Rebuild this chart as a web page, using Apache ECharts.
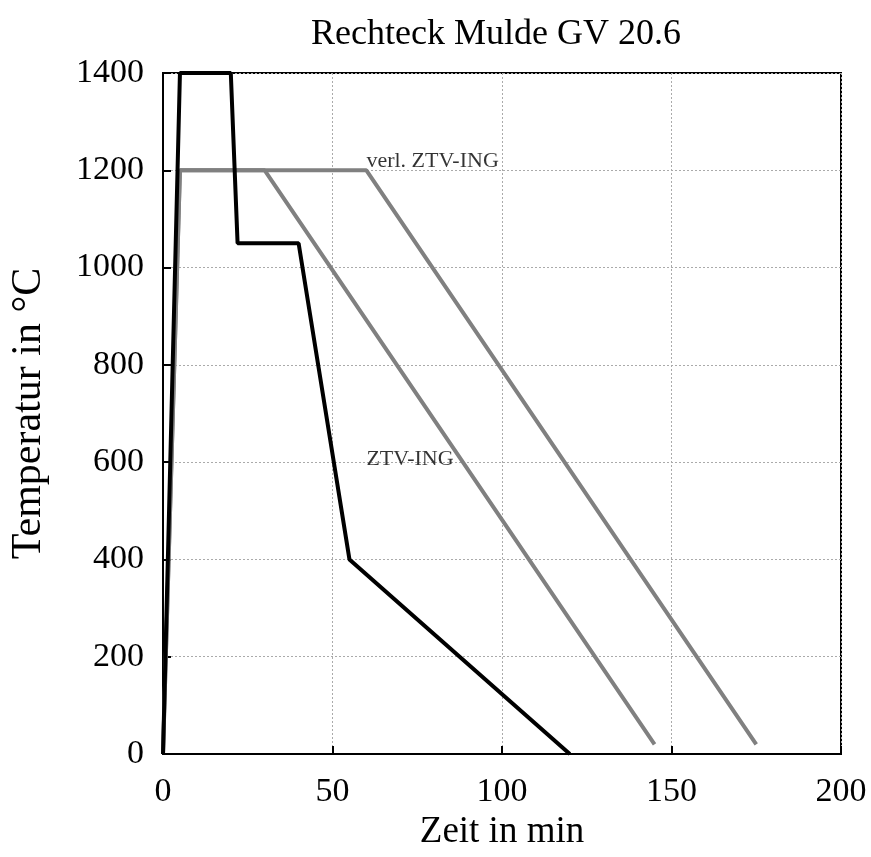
<!DOCTYPE html>
<html><head><meta charset="utf-8">
<script src="https://cdn.jsdelivr.net/npm/echarts@6/dist/echarts.min.js"></script>
<style>html,body{margin:0;padding:0;background:#fff}#c{width:871px;height:857px}</style>
</head><body><div id="c"></div>
<script>
const titleText = 'Rechteck Mulde GV 20.6';
const xName = 'Zeit in min';
const yName = 'Temperatur in °C';
const xTicks = [0, 50, 100, 150, 200];
const yTicks = [0, 200, 400, 600, 800, 1000, 1200, 1400];
// black measured curve
const mulde = [[0,0],[5,1400],[20,1400],[22,1050],[40,1050],[55,400],[120,0]];
// ZTV-ING
const ztv = [[0,0],[5,1200],[30,1200],[145,20]];
// extended ZTV-ING
const verl = [[0,0],[5,1200],[60,1200],[175,20]];
const labelVerl = {text:'verl. ZTV-ING', at:[60,1200]};
const labelZtv = {text:'ZTV-ING', at:[60,600]};

const font = 'Liberation Serif';
const chart = echarts.init(document.getElementById('c'));
const txt = (l, dy) => ({
  type:'scatter', data:[l.at], symbolSize:0, silent:true, z:5,
  label:{show:true, position:'right', distance:0, formatter:l.text, color:'#000', fontFamily:font, fontSize:22, offset:[0,dy]}
});
chart.setOption({
  animation:false,
  title:{text:titleText, left:491, textAlign:'center', top:12, textStyle:{fontFamily:font, fontSize:36, fontWeight:'normal', color:'#000'}},
  grid:{left:161, right:30, top:73, bottom:103, show:true, borderColor:'#000', borderWidth:2},
  xAxis:{type:'value', min:0, max:200, interval:50, name:xName, nameLocation:'middle', nameGap:53,
    nameTextStyle:{fontFamily:font, fontSize:37, color:'#000'},
    axisLine:{show:true, lineStyle:{color:'#000', width:2}},
    axisTick:{show:true, inside:true, length:8, lineStyle:{color:'#000', width:2}},
    axisLabel:{fontFamily:font, fontSize:34, color:'#000', margin:21, formatter:v=>String(v)},
    splitLine:{show:true, lineStyle:{color:'#aaa', type:[2,2], width:1}}},
  yAxis:{type:'value', min:0, max:1400, interval:200, name:yName, nameLocation:'middle', nameGap:113,
    nameTextStyle:{fontFamily:font, fontSize:42, color:'#000'},
    axisLine:{show:true, lineStyle:{color:'#000', width:2}},
    axisTick:{show:true, inside:true, length:8, lineStyle:{color:'#000', width:2}},
    axisLabel:{fontFamily:font, fontSize:34, color:'#000', margin:19, formatter:v=>String(v)},
    splitLine:{show:true, lineStyle:{color:'#aaa', type:[2,2], width:1}}},
  series:[
    {type:'line', data:verl, symbol:'none', lineStyle:{color:'#808080', width:4}, z:2},
    {type:'line', data:ztv, symbol:'none', lineStyle:{color:'#808080', width:4}, z:2},
    {type:'line', data:mulde, symbol:'none', lineStyle:{color:'#000', width:4}, z:3},
    txt(labelVerl, -9), txt(labelZtv, -3)
  ]
});
</script></body></html>
